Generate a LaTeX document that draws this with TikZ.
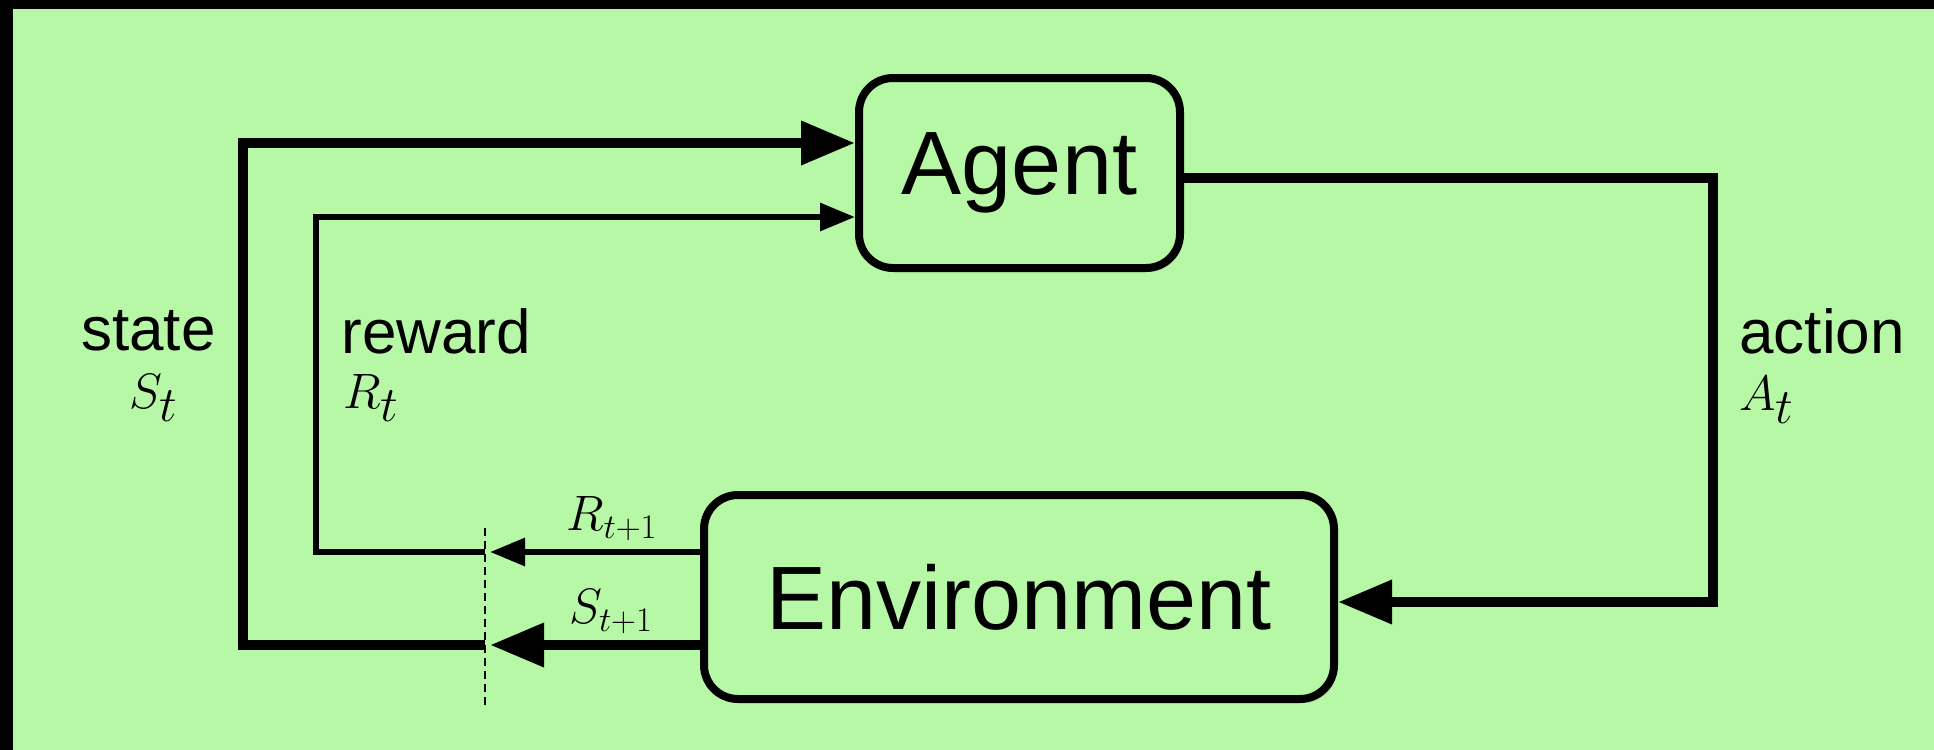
\documentclass[tikz,border=0pt]{standalone}
\usepackage{fontspec}
\usepackage{amsmath}
\newfontfamily\labelfont{Liberation Sans}
\usetikzlibrary{calc,arrows.meta,positioning,shadows}
\definecolor{bggreen}{RGB}{183,248,167}

\begin{document}
\begin{tikzpicture}[x=0.5pt,y=-0.5pt,
    box/.style={draw,line width=4pt,rounded corners=17pt,fill=bggreen,
        font=\labelfont\fontsize{45}{50}\selectfont,
        drop shadow={opacity=0.25,shadow xshift=1.5pt,shadow yshift=-2pt}},
    heavy/.style={line width=5pt},
    light/.style={line width=3pt},
    bigtip/.style={-{Triangle[length=27pt,width=21pt]}},
    smalltip/.style={-{Triangle[length=17.5pt,width=13.5pt]}},
    lbl/.style={font=\labelfont\fontsize{31}{34}\selectfont,inner sep=0pt},
    mlbl/.style={font=\fontsize{34}{38}\selectfont,inner sep=0pt},
    sublbl/.style={font=\fontsize{24}{28}\selectfont,inner sep=0pt}]
    % frame
    \fill[black] (0,0) rectangle (1934,750);
    \fill[bggreen] (13,9) rectangle (1934,750);
    \useasboundingbox (0,0) rectangle (1934,750);
    % boxes
    \node[box,minimum width=160.5pt,minimum height=95pt] (agent) at (1019.5,173) {Agent};
    \node[box,minimum width=315pt,minimum height=102pt] (env) at (1019,597) {Environment};
    % corners of the loops
    \coordinate (scut) at (485,645);
    \coordinate (rcut) at (485,552);
    \coordinate (sl) at (243,645);
    \coordinate (st) at (243,143);
    \coordinate (rl) at (316,552);
    \coordinate (rt) at (316,217);
    \coordinate (ar) at (1713,178);
    \coordinate (ab) at (1713,602);
    \coordinate (cuttop) at (485,528);
    \coordinate (cutbot) at (485,709);
    % state and reward
    \draw[heavy,bigtip] (env.west |- scut) -- ($(scut)+(5,0)$);
    \draw[heavy,bigtip] (scut) -- (sl) -- (st) -- (agent.west |- st);
    \draw[light,smalltip] (env.west |- rcut) -- ($(rcut)+(5,0)$);
    \draw[light,smalltip] (rcut) -- (rl) -- (rt) -- (agent.west |- rt);
    % action
    \draw[heavy,bigtip] (agent.east |- ar) -- (ar) -- (ab) -- (env.east |- ab);
    \draw[line width=1pt,dash pattern=on 4pt off 2.5pt] (cuttop) -- (cutbot);
    % labels
    \node[lbl,anchor=east] (state) at (216,331) {state};
    \node[mlbl] (stlbl) at (154,398) {$S_t$};
    \node[lbl,anchor=west] (reward) at (341,331) {reward};
    \node[mlbl,anchor=west] (rtlbl) at (343,398) {$R_t$};
    \node[lbl,anchor=west] (action) at (1739,331) {action};
    \node[mlbl,anchor=west] (atlbl) at (1739,400) {$A_t$};
    \node[sublbl,anchor=south] (rnext) at (612,541) {$R_{t+1}$};
    \node[sublbl,anchor=south] (snext) at (611,634) {$S_{t+1}$};
\end{tikzpicture}
\end{document}
